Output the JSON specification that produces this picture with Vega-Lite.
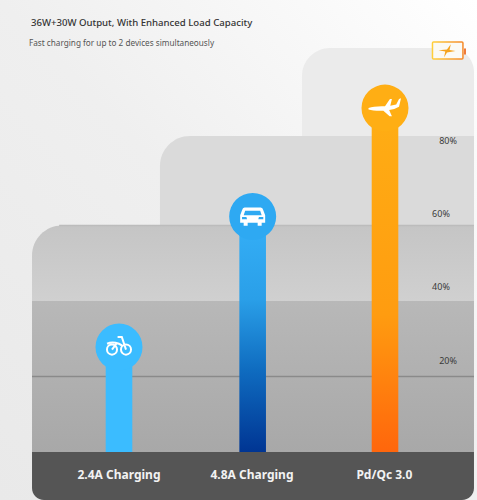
{
"$schema":"https://vega.github.io/schema/vega-lite/v6.json",
"width":477,"height":500,"padding":0,"autosize":"none","background":"#ffffff",
"config":{"view":{"stroke":null}},
"encoding":{
"x":{"field":"x","type":"quantitative","axis":null,"scale":{"domain":[-0.8947,2.6917],"nice":false,"zero":false}},
"y":{"field":"y","type":"quantitative","axis":null,"scale":{"domain":[-12.715,119.74],"nice":false,"zero":false}}
},
"layer":[
{"data":{"values":[{"x":-0.8947,"x2":2.6917,"y":-12.715,"y2":119.74}]},
 "mark":{"type":"rect","fill":{"gradient":"linear","x1":0,"y1":1,"x2":1,"y2":0,"stops":[{"offset":0,"color":"#e9e9e9"},{"offset":0.5,"color":"#efefef"},{"offset":1,"color":"#ffffff"}]}},
 "encoding":{"x2":{"field":"x2"},"y2":{"field":"y2"}}},
{"data":{"values":[{"x":1.376,"x2":2.669,"y":0,"y2":107}]},
 "mark":{"type":"rect","fill":"#ebebeb","cornerRadiusTopLeft":28,"cornerRadiusTopRight":24},
 "encoding":{"x2":{"field":"x2"},"y2":{"field":"y2"}}},
{"data":{"values":[{"x":0.308,"x2":2.669,"y":0,"y2":83.7}]},
 "mark":{"type":"rect","fill":"#dadada","cornerRadiusTopLeft":30},
 "encoding":{"x2":{"field":"x2"},"y2":{"field":"y2"}}},
{"data":{"values":[{"x":-0.654,"x2":2.669,"y":40,"y2":60}]},
 "mark":{"type":"rect","cornerRadiusTopLeft":30,"fill":{"gradient":"linear","x1":0,"y1":0,"x2":0,"y2":1,"stops":[{"offset":0,"color":"#c5c5c5"},{"offset":1,"color":"#d0d0d0"}]}},
 "encoding":{"x2":{"field":"x2"},"y2":{"field":"y2"}}},
{"data":{"values":[{"x":-0.654,"x2":2.669,"y":0,"y2":40}]},
 "mark":{"type":"rect","fill":{"gradient":"linear","x1":0,"y1":0,"x2":0,"y2":1,"stops":[{"offset":0,"color":"#b8b8b8"},{"offset":1,"color":"#a8a8a8"}]}},
 "encoding":{"x2":{"field":"x2"},"y2":{"field":"y2"}}},
{"data":{"values":[{"x":-0.654,"x2":2.669,"y":20},{"x":-0.45,"x2":2.669,"y":60}]},
 "mark":{"type":"rule","strokeWidth":1.5},
 "encoding":{"x2":{"field":"x2"},"color":{"condition":{"test":"datum.y==20","value":"#8a8a8a"},"value":"#bcbcbc"}}},
{"data":{"values":[{"x":-0.654,"x2":2.669,"y":-12.715,"y2":0}]},
 "mark":{"type":"rect","fill":"#555555","cornerRadiusBottomLeft":12,"cornerRadiusBottomRight":12},
 "encoding":{"x2":{"field":"x2"},"y2":{"field":"y2"}}},
{"data":{"values":[{"category":"2.4A Charging","x":-0.1,"x2":0.1,"y":0,"y2":27.5}]},
 "mark":{"type":"rect","fill":"#3bbcff"},
 "encoding":{"x2":{"field":"x2"},"y2":{"field":"y2"}}},
{"data":{"values":[{"category":"4.8A Charging","x":0.905,"x2":1.105,"y":0,"y2":62.3}]},
 "mark":{"type":"rect","fill":{"gradient":"linear","x1":0,"y1":0,"x2":0,"y2":1,"stops":[{"offset":0,"color":"#35b0f8"},{"offset":0.35,"color":"#2a9fe8"},{"offset":0.65,"color":"#0f6cc0"},{"offset":1,"color":"#003593"}]}},
 "encoding":{"x2":{"field":"x2"},"y2":{"field":"y2"}}},
{"data":{"values":[{"category":"Pd/Qc 3.0","x":1.9,"x2":2.1,"y":0,"y2":91.1}]},
 "mark":{"type":"rect","fill":{"gradient":"linear","x1":0,"y1":0,"x2":0,"y2":1,"stops":[{"offset":0,"color":"#ffae14"},{"offset":0.6,"color":"#ff9c10"},{"offset":1,"color":"#ff660c"}]}},
 "encoding":{"x2":{"field":"x2"},"y2":{"field":"y2"}}},
{"data":{"values":[{"x":0,"y":27.8,"c":"#3bbcff"},{"x":1.005,"y":62.4,"c":"#2ea9f2"},{"x":2,"y":91.1,"c":"#ffae14"}]},
 "mark":{"type":"point","filled":true,"shape":"circle","size":2209,"opacity":1},
 "encoding":{"fill":{"field":"c","type":"nominal","scale":null},"stroke":{"value":null}}},
{"data":{"values":[{"x":0,"y":27.5}]},
 "mark":{"type":"point","filled":false,"size":784,"stroke":"#ffffff","strokeWidth":2,"opacity":1,
  "shape":"M-0.86,0.1A0.36,0.36,0,1,1,-0.14,0.1A0.36,0.36,0,1,1,-0.86,0.1ZM0.14,0.1A0.36,0.36,0,1,1,0.86,0.1A0.36,0.36,0,1,1,0.14,0.1ZM0.5,0.1L0.2,-0.8L-0.1,-0.8M-0.85,-0.32C-0.45,-0.5,0,-0.35,0.2,-0.2M-0.5,0.1L-0.2,-0.3"}},
{"data":{"values":[{"x":1.005,"y":62.4}]},
 "mark":{"type":"point","filled":true,"size":625,"fill":"#ffffff","opacity":1,
  "shape":"M-0.65,-0.72L0.65,-0.72Q0.8,-0.72,0.85,-0.5L1,-0.1L1,0.5L0.72,0.5L0.72,0.75L0.4,0.75L0.4,0.5L-0.4,0.5L-0.4,0.75L-0.72,0.75L-0.72,0.5L-1,0.5L-1,-0.1L-0.85,-0.5Q-0.8,-0.72,-0.65,-0.72ZM-0.6,-0.45L-0.72,-0.1L0.72,-0.1L0.6,-0.45ZM-0.85,0.05L-0.85,0.22L-0.45,0.22L-0.5,0.05ZM0.85,0.05L0.5,0.05L0.45,0.22L0.85,0.22Z"}},
{"data":{"values":[{"x":2,"y":91.1}]},
 "mark":{"type":"point","filled":true,"size":1089,"fill":"#ffffff","opacity":1,
  "shape":"M-1,0Q-0.7,-0.12,-0.2,-0.12L0.0,-0.12L0.3,-0.55L0.42,-0.55L0.32,-0.15L0.68,-0.22L0.85,-0.55L0.97,-0.6L0.85,-0.08Q0.6,0.08,0.25,0.12L0.42,0.5L0.28,0.5L-0.1,0.16Q-0.7,0.18,-1,0.08Z"}},
{"data":{"values":[{"x":2.357,"x2":2.586,"y":104.1,"y2":108.6}]},
 "mark":{"type":"rect","fill":"#fbfaf5","strokeWidth":1.5,"cornerRadius":1,"stroke":{"gradient":"linear","x1":0,"y1":0,"x2":1,"y2":0,"stops":[{"offset":0,"color":"#ffcf3a"},{"offset":1,"color":"#f58a2a"}]}},
 "encoding":{"x2":{"field":"x2"},"y2":{"field":"y2"}}},
{"data":{"values":[{"x":2.594,"x2":2.609,"y":105.3,"y2":106.9}]},
 "mark":{"type":"rect","fill":"#ef7b3a"},
 "encoding":{"x2":{"field":"x2"},"y2":{"field":"y2"}}},
{"data":{"values":[{"x":2.466,"y":106.2}]},
 "mark":{"type":"point","filled":true,"size":289,"fill":"#f5a31e","opacity":1,
  "shape":"M-1,-0.1L0,-0.2L0.45,-0.8L0.3,-0.12L1,-0.02L0,0.15L-0.35,0.75L-0.2,0.05Z"}},
{"data":{"values":[{"x":-0.662,"y":113.6,"t":"36W+30W Output, With Enhanced Load Capacity"}]},
 "mark":{"type":"text","align":"left","baseline":"middle","font":"Noto Sans","fontSize":9.6,"fontWeight":500,"fill":"#333333"},
 "encoding":{"text":{"field":"t"}}},
{"data":{"values":[{"x":-0.677,"y":108.1,"t":"Fast charging for up to 2 devices simultaneously"}]},
 "mark":{"type":"text","align":"left","baseline":"middle","font":"Noto Sans","fontSize":8.2,"fill":"#555555"},
 "encoding":{"text":{"field":"t"}}},
{"data":{"values":[{"x":2.474,"y":82.4,"t":"80%"},{"x":2.421,"y":63.0,"t":"60%"},{"x":2.421,"y":43.7,"t":"40%"},{"x":2.474,"y":24.1,"t":"20%"}]},
 "mark":{"type":"text","align":"center","baseline":"middle","font":"Noto Sans","fontSize":9,"fill":"#3a3a3a"},
 "encoding":{"text":{"field":"t"}}},
{"data":{"values":[{"x":0,"y":-6.2,"t":"2.4A Charging"},{"x":1,"y":-6.2,"t":"4.8A Charging"},{"x":1.995,"y":-6.2,"t":"Pd/Qc 3.0"}]},
 "mark":{"type":"text","align":"center","baseline":"middle","font":"Noto Sans","fontSize":12,"fontWeight":"bold","fill":"#f2f2f2"},
 "encoding":{"text":{"field":"t"}}}
]
}
